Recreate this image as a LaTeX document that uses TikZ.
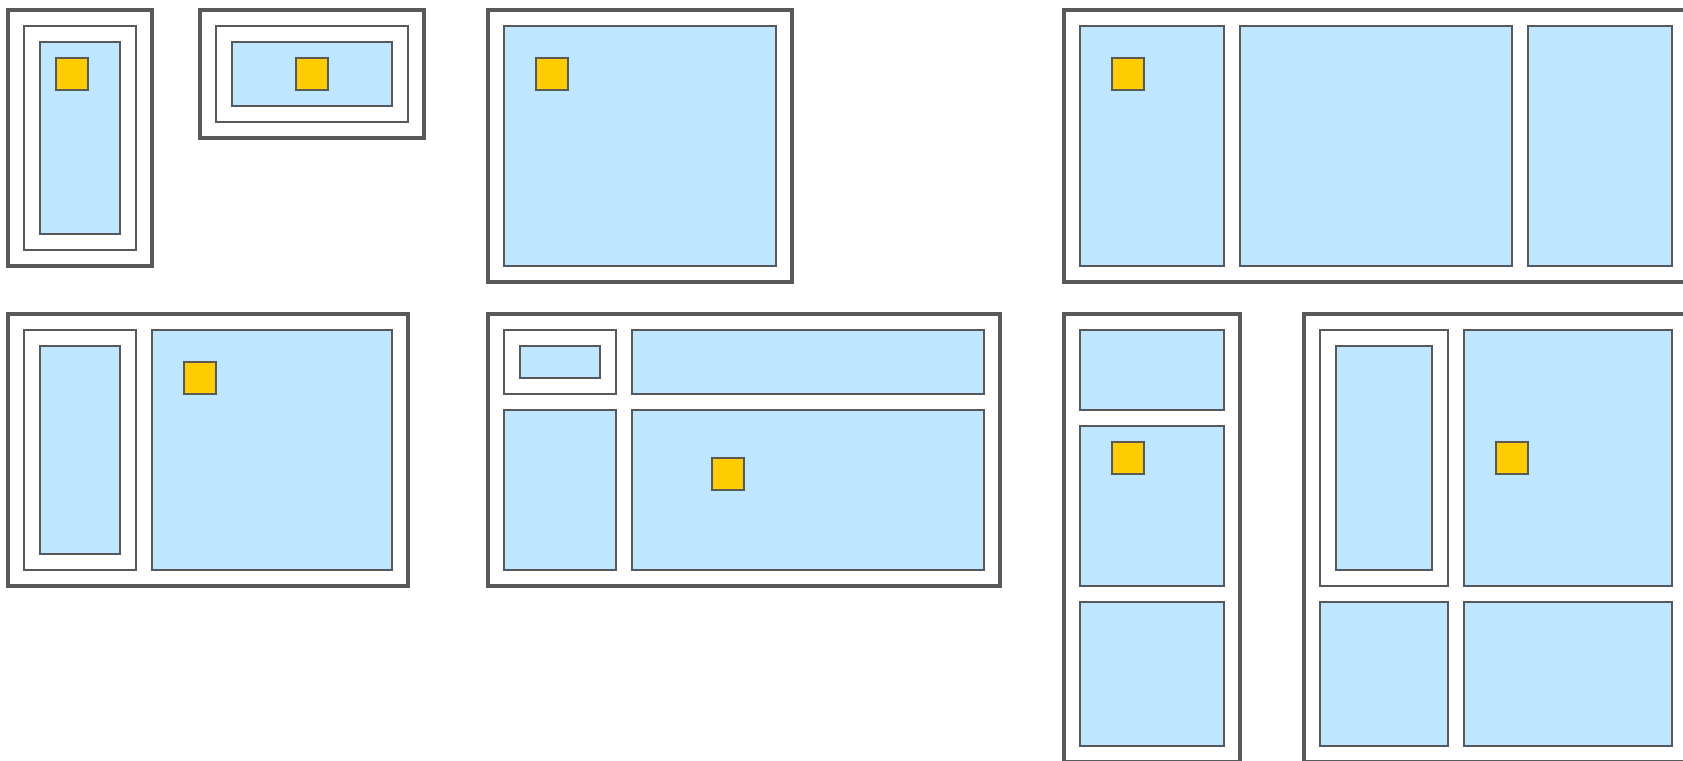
\documentclass[tikz,border=0pt]{standalone}
\definecolor{edgegray}{HTML}{595959}
\definecolor{leafblue}{HTML}{BFE6FF}
\definecolor{focusyellow}{HTML}{FFCC00}

\begin{document}
\begin{tikzpicture}[
  x=0.16cm, y=-0.16cm,
  frame/.style={draw=edgegray, line width=1.0pt, fill=white},
  pane/.style={draw=edgegray, line width=0.55pt, fill=white},
  leaf/.style={draw=edgegray, line width=0.55pt, fill=leafblue},
  focus/.style={draw=edgegray, line width=0.55pt, fill=focusyellow},
]
  \useasboundingbox (-0.5,-0.625) rectangle (104.6875,46.9375);

  % 第一行
  \draw[frame] (0,0) rectangle (9,16);
  \draw[pane]  (1,1) rectangle (8,15);
  \draw[leaf]  (2,2) rectangle (7,14);
  \draw[focus] (3,3) rectangle (5,5);

  \draw[frame] (12,0) rectangle (26,8);
  \draw[pane]  (13,1) rectangle (25,7);
  \draw[leaf]  (14,2) rectangle (24,6);
  \draw[focus] (18,3) rectangle (20,5);

  \draw[frame] (30,0) rectangle (49,17);
  \draw[leaf]  (31,1) rectangle (48,16);
  \draw[focus] (33,3) rectangle (35,5);

  \draw[frame] (66,0) rectangle (105,17);
  \foreach \a/\b in {67/76, 77/94, 95/104}
    \draw[leaf] (\a,1) rectangle (\b,16);
  \draw[focus] (69,3) rectangle (71,5);

  % 第二行
  \draw[frame] (0,19) rectangle (25,36);
  \draw[pane]  (1,20) rectangle (8,35);
  \draw[leaf]  (2,21) rectangle (7,34);
  \draw[leaf]  (9,20) rectangle (24,35);
  \draw[focus] (11,22) rectangle (13,24);

  \draw[frame] (30,19) rectangle (62,36);
  \draw[pane]  (31,20) rectangle (38,24);
  \draw[leaf]  (32,21) rectangle (37,23);
  \draw[leaf]  (39,20) rectangle (61,24);
  \draw[leaf]  (31,25) rectangle (38,35);
  \draw[leaf]  (39,25) rectangle (61,35);
  \draw[focus] (44,28) rectangle (46,30);

  \draw[frame] (66,19) rectangle (77,47);
  \foreach \a/\b in {20/25, 26/36, 37/46}
    \draw[leaf] (67,\a) rectangle (76,\b);
  \draw[focus] (69,27) rectangle (71,29);

  \draw[frame] (81,19) rectangle (105,47);
  \draw[pane]  (82,20) rectangle (90,36);
  \draw[leaf]  (83,21) rectangle (89,35);
  \draw[leaf]  (91,20) rectangle (104,36);
  \draw[leaf]  (82,37) rectangle (90,46);
  \draw[leaf]  (91,37) rectangle (104,46);
  \draw[focus] (93,27) rectangle (95,29);
\end{tikzpicture}
\end{document}
